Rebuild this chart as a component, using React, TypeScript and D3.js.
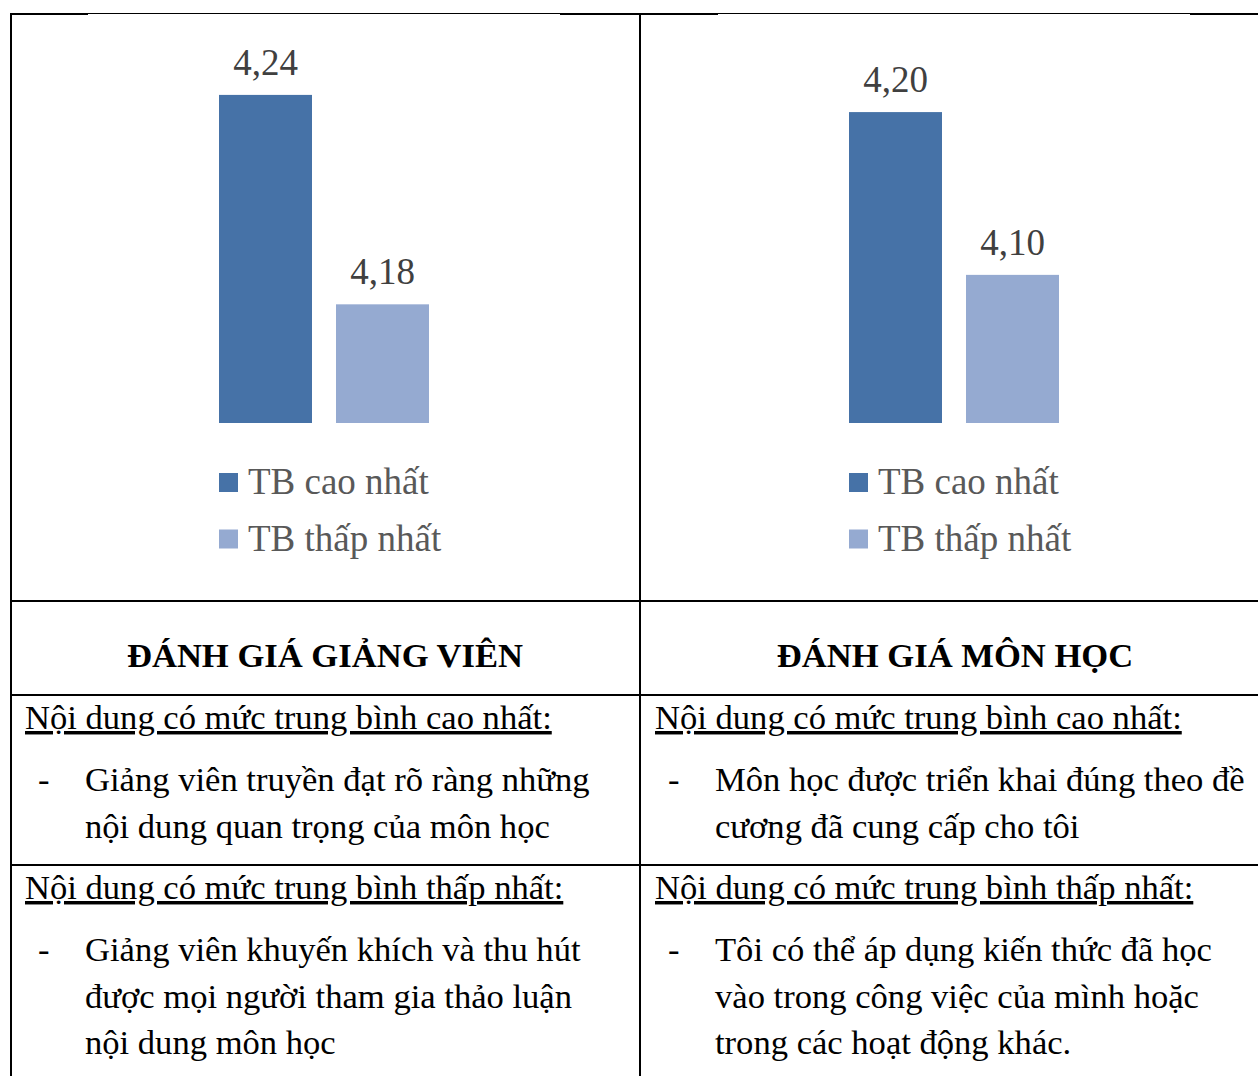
import { formatLocale, scaleBand, scaleLinear } from "d3";

const WIDTH = 1258;
const HEIGHT = 1076;
const FONT = "'Liberation Serif', 'Times New Roman', serif";

const SERIES = ["TB cao nhất", "TB thấp nhất"];
const SERIES_COLORS = ["#4672A7", "#95AAD1"];

const PANEL_TITLES = ["ĐÁNH GIÁ GIẢNG VIÊN", "ĐÁNH GIÁ MÔN HỌC"];
const GIANG_VIEN_VALUES = [4.24, 4.18];
const MON_HOC_VALUES = [4.2, 4.1];
// value axis extents (Excel auto-scaled, hidden axis)
const GIANG_VIEN_DOMAIN = [4.146, 4.25];
const MON_HOC_DOMAIN = [4.009, 4.232];

const ROW_HEADINGS = [
  "Nội dung có mức trung bình cao nhất:",
  "Nội dung có mức trung bình thấp nhất:",
];
const HIGHEST_ITEMS = [
  ["Giảng viên truyền đạt rõ ràng những", "nội dung quan trọng của môn học"],
  ["Môn học được triển khai đúng theo đề", "cương đã cung cấp cho tôi"],
];
const LOWEST_ITEMS = [
  [
    "Giảng viên khuyến khích và thu hút",
    "được mọi người tham gia thảo luận",
    "nội dung môn học",
  ],
  [
    "Tôi có thể áp dụng kiến thức đã học",
    "vào trong công việc của mình hoặc",
    "trong các hoạt động khác.",
  ],
];

const vn = formatLocale({
  decimal: ",",
  thousands: ".",
  grouping: [3],
  currency: ["", ""],
});
const fmt = vn.format(".2f");

const COL_OFFSET = 630;
const LINE_Y = { top: 13, chartBottom: 601, header: 695, row: 865 };

function BarPanel({ values, domain, offset }) {
  const x = scaleBand()
    .domain(SERIES)
    .range([207 + offset, 441 + offset])
    .paddingInner(24 / 117)
    .paddingOuter(12 / 117);
  const y = scaleLinear().domain(domain).range([423, 60]);

  return (
    <g>
      {SERIES.map((s, i) => (
        <g key={s}>
          <rect
            x={x(s)}
            y={y(values[i])}
            width={x.bandwidth()}
            height={y(domain[0]) - y(values[i])}
            fill={SERIES_COLORS[i]}
          />
          <text
            x={(x(s) ?? 0) + x.bandwidth() / 2}
            y={y(values[i]) - 20}
            textAnchor="middle"
            fontSize={37}
            fill="#404040"
          >
            {fmt(values[i])}
          </text>
        </g>
      ))}
      {SERIES.map((s, i) => (
        <g key={`legend-${s}`} transform={`translate(${x(SERIES[0])},${473 + i * 56.5})`}>
          <rect width={19} height={19} fill={SERIES_COLORS[i]} />
          <text x={29} y={21} fontSize={37} fill="#595959">
            {s}
          </text>
        </g>
      ))}
    </g>
  );
}

function TextColumn({ index, offset }) {
  const blocks = [HIGHEST_ITEMS[index], LOWEST_ITEMS[index]];
  const headingY = [729, 899];
  return (
    <g fontSize={34.6} fill="#000">
      <text x={325 + offset} y={667} textAnchor="middle" fontWeight="bold">
        {PANEL_TITLES[index]}
      </text>
      {blocks.map((lines, b) => (
        <g key={b}>
          <text
            x={25 + offset}
            y={headingY[b]}
            style={{ textDecoration: "underline", textDecorationSkipInk: "none" }}
          >
            {ROW_HEADINGS[b]}
          </text>
          <text x={38 + offset} y={headingY[b] + 62}>
            -
          </text>
          {lines.map((line, l) => (
            <text key={l} x={85 + offset} y={headingY[b] + 62 + l * 46.5}>
              {line}
            </text>
          ))}
        </g>
      ))}
    </g>
  );
}

export default function App() {
  return (
    <svg
      width={WIDTH}
      height={HEIGHT}
      viewBox={`0 0 ${WIDTH} ${HEIGHT}`}
      style={{ position: "absolute", left: 0, top: 0, background: "#fff" }}
      fontFamily={FONT}
    >
      <rect width={WIDTH} height={HEIGHT} fill="#fff" />
      {/* table grid */}
      <g stroke="#000" fill="none">
        <line x1={10} x2={WIDTH} y1={LINE_Y.top + 0.5} y2={LINE_Y.top + 0.5} strokeWidth={1} />
        <line x1={10} x2={88} y1={LINE_Y.top + 1} y2={LINE_Y.top + 1} strokeWidth={2} />
        <line x1={560} x2={718} y1={LINE_Y.top + 1} y2={LINE_Y.top + 1} strokeWidth={2} />
        <line x1={1190} x2={WIDTH} y1={LINE_Y.top + 1} y2={LINE_Y.top + 1} strokeWidth={2} />
        <line x1={11} x2={11} y1={LINE_Y.top} y2={HEIGHT} strokeWidth={2} />
        <line x1={640} x2={640} y1={LINE_Y.top} y2={HEIGHT} strokeWidth={2} />
        {[LINE_Y.chartBottom, LINE_Y.header, LINE_Y.row].map((yy) => (
          <line key={yy} x1={10} x2={WIDTH} y1={yy} y2={yy} strokeWidth={2} />
        ))}
      </g>
      <BarPanel values={GIANG_VIEN_VALUES} domain={GIANG_VIEN_DOMAIN} offset={0} />
      <BarPanel values={MON_HOC_VALUES} domain={MON_HOC_DOMAIN} offset={COL_OFFSET} />
      <TextColumn index={0} offset={0} />
      <TextColumn index={1} offset={COL_OFFSET} />
    </svg>
  );
}
